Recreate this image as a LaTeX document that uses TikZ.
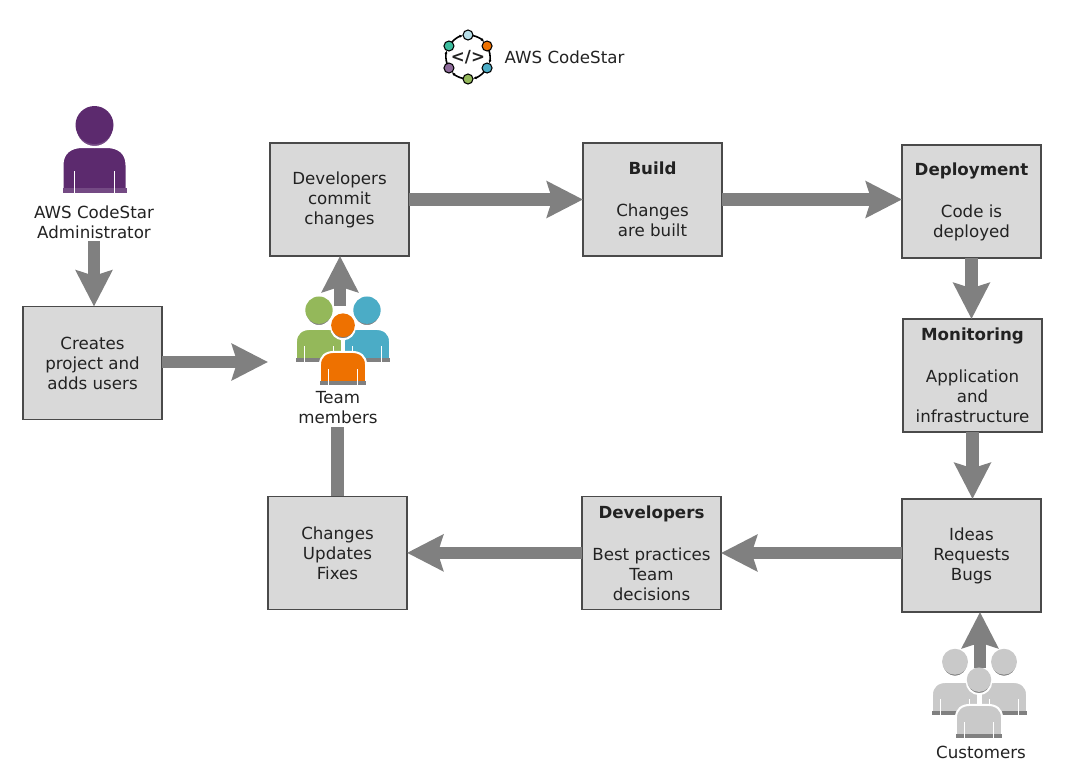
\documentclass[tikz,border=0pt]{standalone}
\usepackage{fontspec}
\setmainfont{DejaVu Sans}
\usetikzlibrary{positioning,arrows.meta,calc}
\definecolor{boxclr}{HTML}{D9D9D9}
\definecolor{lineclr}{HTML}{4A4A4A}
\definecolor{flowclr}{HTML}{808080}
\definecolor{txtclr}{HTML}{222222}
\definecolor{adminclr}{HTML}{5C2A6E}
\definecolor{greenclr}{HTML}{94B85A}
\definecolor{blueclr}{HTML}{4BACC6}
\definecolor{orangeclr}{HTML}{EE7100}
\definecolor{custclr}{HTML}{C9C9C9}
\tikzset{ %
  ,every node/.style={font=\fontsize{12.5}{15}\selectfont, text=txtclr}
  ,stage/.style={draw=lineclr, line width=1pt, fill=boxclr, minimum width=104.25pt, minimum height=84.75pt, inner sep=0, outer sep=0, align=center}
  ,lbl/.style={inner sep=0, outer sep=2pt, align=center}
  ,flow/.style={draw=flowclr, line width=9.5pt, -{Stealth[length=27pt, width=27pt, inset=4pt]}}
  ,flowend/.style={draw=flowclr, line width=9.5pt}
  ,dot/.style={draw=black, line width=0.8pt, circle, inner sep=0, minimum size=7.5pt}
  ,pics/person/.style n args={4}{code={
      % body fill, strip colour, head height, head radius
      \path[fill=#1, draw=white, line width=1.5pt] (-32,0) -- (-32,28) .. controls (-32,40) and (-24,46) .. (-12,46)
        -- (12,46) .. controls (24,46) and (32,40) .. (32,28) -- (32,0) -- cycle;
      \path[fill=#2] (-32,0) rectangle (32,5);
      \draw[white, line width=1pt] (-20,0) -- (-20,22) (20,0) -- (20,22);
      \path[fill=#2, draw=white, line width=1.5pt] (0,#3-3) circle (#4);
      \path[fill=#1] (0,#3) circle (#4);
  }}
}
\begin{document}
\begin{tikzpicture}[x=0.75pt, y=0.75pt, yscale=-1]
  \useasboundingbox (0,0) rectangle (1078,779);

  % main loop
  \node[stage] (dev) at (339.5,199.5) {Developers\\commit\\changes};
  \node[stage, right=130.5pt of dev] (build) {\textbf{Build}\\[16.5pt]Changes\\are built};
  \node[stage, right=135pt of build, yshift=-1.5pt] (deploy) {\textbf{Deployment}\\[16.5pt]Code is\\deployed};
  \node[stage, below=45.75pt of deploy, xshift=0.75pt] (monitor) {\textbf{Monitoring}\\[16.5pt]Application\\and\\infrastructure};
  \node[stage, below=50.25pt of monitor, xshift=-0.75pt] (ideas) {Ideas\\Requests\\Bugs};
  \node[stage, left=135.75pt of ideas, yshift=2pt] (best) {\textbf{Developers}\\[16.5pt]Best practices\\Team\\decisions};
  \node[stage, left=131.25pt of best] (fixes) {Changes\\Updates\\Fixes};
  \node[stage] (create) at (92.5,363) {Creates\\project and\\adds users};

  % labels
  \node[lbl] (admin) at (94,222) {AWS CodeStar\\Administrator};
  \node[lbl] (team) at (338,408) {Team\\members};
  \node[lbl] (cust) at (981,752) {Customers};
  \node[lbl, anchor=west] (title) at (502,57) {AWS CodeStar};

  % free ends of the connectors
  \coordinate (teamin) at (268,362);
  \coordinate (teamout) at (340,306);
  \coordinate (custout) at (980,668);

  % connectors
  \draw[flow] (dev) -- (build);
  \draw[flow] (build) -- (build -| deploy.west);
  \draw[flow] (deploy.south) -- (deploy.south |- monitor.north);
  \draw[flow] (monitor.south) -- (monitor.south |- ideas.north);
  \draw[flow] (ideas.west |- 0,553) -- (best.east |- 0,553);
  \draw[flow] (best) -- (fixes);
  \draw[flow] (create.east |- teamin) -- (teamin);
  \draw[flow] (admin) -- (create.north -| admin);
  \draw[flowend] (fixes.north) -- (fixes.north |- team.south);
  \draw[flow] (teamout) -- (teamout |- dev.south);
  \draw[flow] (custout) -- (custout |- ideas.south);

  % people
  \pic at (94.5,193) {person={adminclr}{adminclr!85!white}{68}{19}};
  \pic[scale=0.72] at (319,362) {person={greenclr}{flowclr}{72}{19}};
  \pic[scale=0.72] at (367,362) {person={blueclr}{flowclr}{72}{19}};
  \pic[scale=0.72] at (343,385) {person={orangeclr}{flowclr}{83}{16.5}};
  \pic[scale=0.72] at (955,715) {person={custclr}{flowclr}{74}{18}};
  \pic[scale=0.72] at (1004,715) {person={custclr}{flowclr}{74}{18}};
  \pic[scale=0.72] at (979,738) {person={custclr}{flowclr}{81}{17}};

  % logo
  \coordinate (logo) at (468,57);
  \foreach \ang in {-90,-30,30,90,150,210}
    \draw[line width=1.2pt, -{Latex[length=3pt]}] (logo) ++(\ang+12:22) arc[start angle=\ang+12, end angle=\ang+48, radius=22];
  \foreach \ang/\clr/\name in {-90/blueclr!40!white/a,-30/orangeclr/b,30/blueclr/c,90/greenclr/d,150/adminclr!70!white/e,210/blueclr!80!green/f}
    \node[dot, fill=\clr] (dot\name) at ($(logo)+(\ang:22)$) {};
  \node[inner sep=0] (code) at (logo) {\textbf{</>}};
\end{tikzpicture}
\end{document}
